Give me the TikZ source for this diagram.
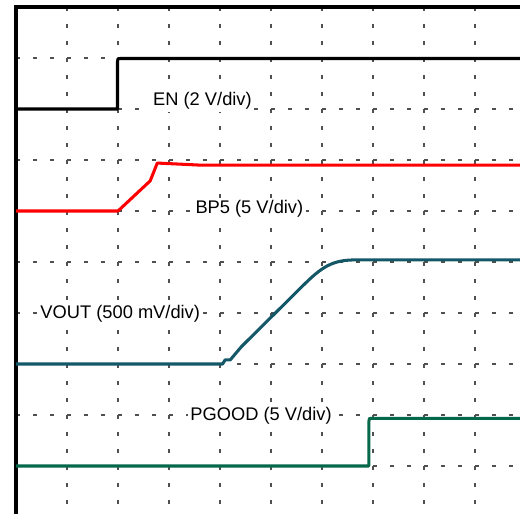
\documentclass[tikz,border=0pt]{standalone}
\usepackage{fontspec}
\setmainfont{Liberation Sans}
\definecolor{gridgray}{RGB}{80,80,80}
\definecolor{voutteal}{RGB}{20,88,104}
\definecolor{pgoodgreen}{RGB}{5,104,74}
\begin{document}
\begin{tikzpicture}[
    gridline/.style={draw=gridgray, line width=0.65pt, dash pattern=on 2.2pt off 7.285pt},
    trace/.style={line width=1.7pt, line join=round},
    tracelabel/.style={anchor=base west, fill=white, inner sep=1.5pt, font=\fontsize{10.2}{12}\selectfont}
]
    % Visible part of the screen
    \useasboundingbox (-0.314,0.059) rectangle (9.882,10.137);
    \clip (-0.314,0.059) rectangle (9.882,10.137);

    % Dotted graticule
    \foreach \y in {1,...,9} \draw[gridline] (0,\y) -- (10,\y);
    \foreach \x in {1,...,9} \draw[gridline] (\x,10) -- (\x,0);

    % Screen frame
    \draw[line width=1.8pt] (0,0) rectangle (10,10);

    % EN
    \draw[trace] (0,8) -- (1.99,8) -- (1.99,8.93) .. controls (1.99,8.99) .. (2.06,8.99) -- (10,8.99);

    % BP5
    \draw[trace, red] (0,6) -- (2,6) -- (2.63,6.59) -- (2.77,6.94) -- (3.6,6.9) -- (10,6.9);

    % VOUT
    \draw[trace, voutteal] (0,3) -- (4.05,3) -- (4.1,3.08) -- (4.2,3.08) -- (4.42,3.34)
        -- (5.67,4.58) .. controls (6.0,4.9) and (6.2,5.03) .. (6.6,5.04) -- (10,5.04);

    % PGOOD
    \draw[trace, pgoodgreen] (0,1) -- (6.92,1) -- (6.92,1.88) .. controls (6.92,1.935) .. (6.99,1.935) -- (10,1.935);

    % Channel labels (opaque, as on the scope)
    \node[tracelabel] (enlabel) at (2.63,8.065) {EN (2 V/div)};
    \node[tracelabel] (bplabel) at (3.46,5.947) {BP5 (5 V/div)};
    \node[tracelabel] (voutlabel) at (0.42,3.896) {VOUT (500 mV/div)};
    \node[tracelabel] (pgoodlabel) at (3.36,1.888) {PGOOD (5 V/div)};

\end{tikzpicture}
\end{document}
